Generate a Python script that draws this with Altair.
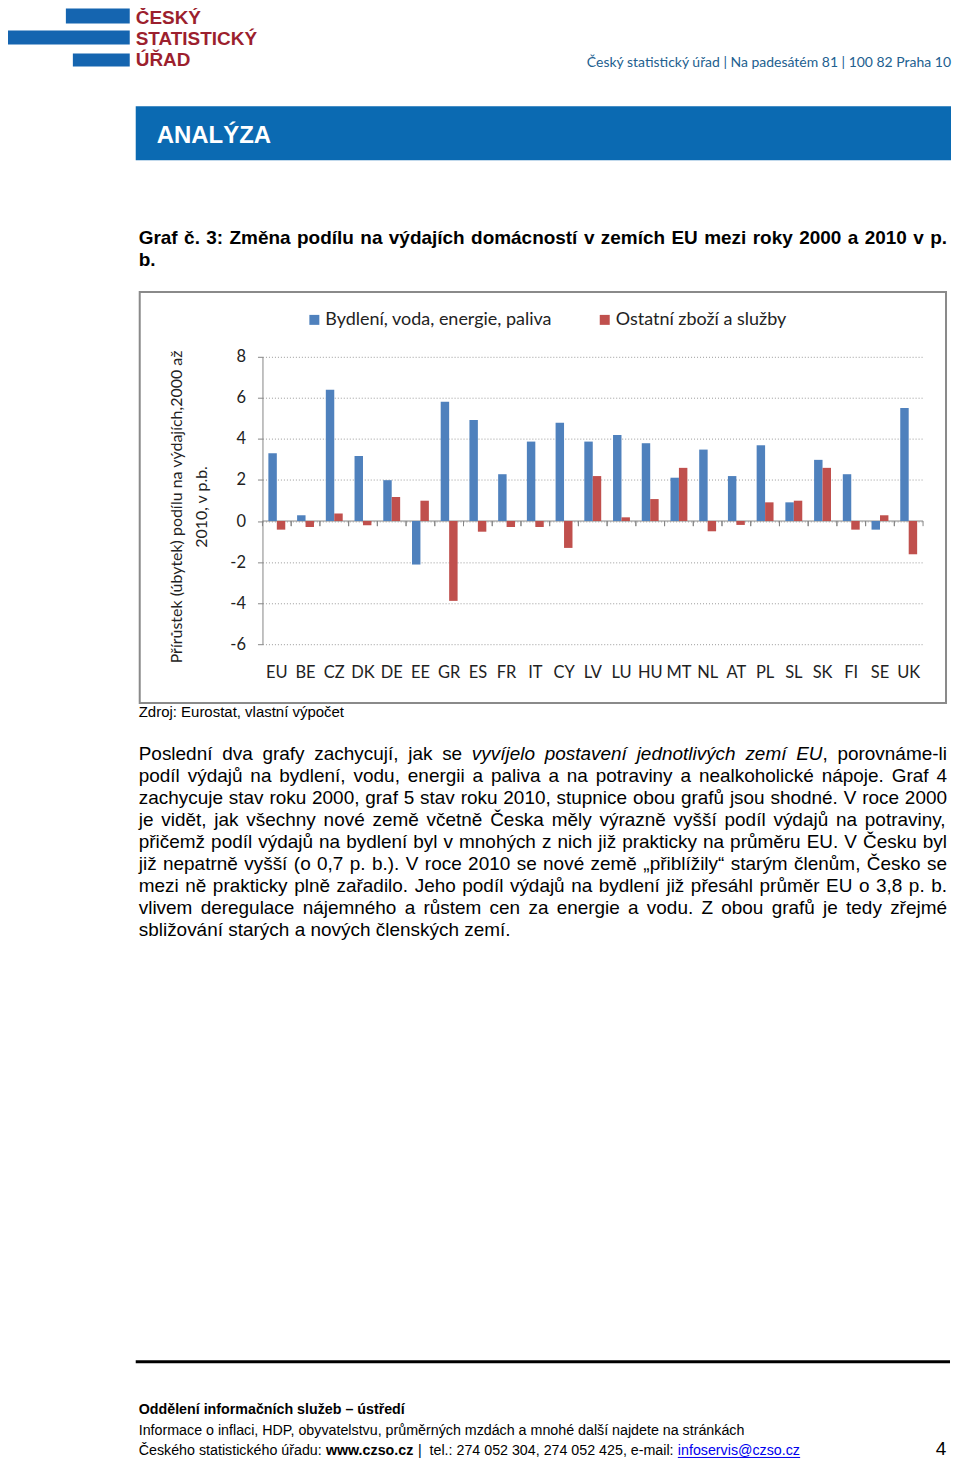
import unicodedata
import altair as alt
import pandas as pd

# ---------------- data ----------------
countries = ["EU", "BE", "CZ", "DK", "DE", "EE", "GR", "ES", "FR", "IT", "CY", "LV",
             "LU", "HU", "MT", "NL", "AT", "PL", "SL", "SK", "FI", "SE", "UK"]
housing = [3.30, 0.28, 6.40, 3.17, 1.99, -2.12, 5.81, 4.92, 2.28, 3.87, 4.79, 3.87,
           4.19, 3.79, 2.11, 3.48, 2.19, 3.69, 0.91, 2.98, 2.28, -0.42, 5.51]
other = [-0.42, -0.29, 0.37, -0.21, 1.17, 0.99, -3.89, -0.52, -0.29, -0.29, -1.31, 2.19,
         0.18, 1.07, 2.59, -0.50, -0.19, 0.91, 0.99, 2.59, -0.42, 0.28, -1.62]
series_names = ["Bydlení, voda, energie, paliva", "Ostatní zboží a služby"]
y_ticks = [-6, -4, -2, 0, 2, 4, 6, 8]
y_title = ["Přírůstek (úbytek) podílu na výdajích,2000 až", "2010, v p.b."]

chart_title = ["Graf č. 3: Změna podílu na výdajích domácností v zemích EU mezi roky 2000 a 2010 v p.",
               "b."]
source_text = "Zdroj: Eurostat, vlastní výpočet"
body_first = [("Poslední dva grafy zachycují, jak se", "normal"),
              ("vyvíjelo postavení jednotlivých zemí EU", "italic"),
              (", porovnáme-li", "normal")]
body_lines = [
    "podíl výdajů na bydlení, vodu, energii a paliva a na potraviny a nealkoholické nápoje. Graf 4",
    "zachycuje stav roku 2000, graf 5 stav roku 2010, stupnice obou grafů jsou shodné. V roce 2000",
    "je vidět, jak všechny nové země včetně Česka měly výrazně vyšší podíl výdajů na potraviny,",
    "přičemž podíl výdajů na bydlení byl v mnohých z nich již prakticky na průměru EU. V Česku byl",
    "již nepatrně vyšší (o 0,7 p. b.). V roce 2010 se nové země „přiblížily“ starým členům, Česko se",
    "mezi ně prakticky plně zařadilo. Jeho podíl výdajů na bydlení již přesáhl průměr EU o 3,8 p. b.",
    "vlivem deregulace nájemného a růstem cen za energie a vodu. Z obou grafů je tedy zřejmé",
    "sbližování starých a nových členských zemí.",
]
logo_lines = ["ČESKÝ", "STATISTICKÝ", "ÚŘAD"]
header_right = "Český statistický úřad | Na padesátém 81 | 100 82  Praha 10"
banner_text = "ANALÝZA"
footer_bold = "Oddělení informačních služeb – ústředí"
footer_line2 = "Informace o inflaci, HDP, obyvatelstvu, průměrných mzdách a mnohé další najdete na stránkách"
# (text, kind, number of spaces that follow it)
footer_line3 = [("Českého statistického úřadu:", "normal", 1), ("www.czso.cz", "bold", 1),
                ("|", "normal", 2), ("tel.: 274 052 304, 274 052 425, e-mail:", "normal", 1),
                ("infoservis@czso.cz", "link", 0)]
page_no = "4"

# ---------------- layout helpers ----------------
OX, OY = 263, 356          # page position of the plot origin
W, H = 662, 288            # plot area
CANVAS_W, CANVAS_H = 946, 1451
ARIAL = "Liberation Sans"
CAL = "Lato"
BLUE, RED = "#4F81BD", "#C0504D"
AXIS_GRAY = "#868686"

# Arial / Liberation Sans advance widths (1/1000 em), used to justify prose lines
_REG = dict(zip("ABCDEFGHIJKLMNOPQRSTUVWXYZ",
                [667, 667, 722, 722, 667, 611, 778, 722, 278, 500, 667, 556, 833, 722, 778,
                 667, 778, 722, 667, 611, 722, 667, 944, 667, 667, 611]))
_REG.update(zip("abcdefghijklmnopqrstuvwxyz",
                [556, 556, 500, 556, 556, 278, 556, 556, 222, 222, 500, 222, 833, 556, 556,
                 556, 556, 333, 500, 278, 556, 500, 722, 500, 500, 500]))
_REG.update({" ": 278, ",": 278, ".": 278, ":": 278, ";": 278, "-": 333, "(": 333, ")": 333,
             "@": 1015, "|": 260, "„": 333, "“": 333, "–": 556, "í": 278})
_BOLD = dict(zip("ABCDEFGHIJKLMNOPQRSTUVWXYZ",
                 [722, 722, 722, 722, 667, 611, 778, 722, 278, 556, 722, 611, 833, 722, 778,
                  667, 778, 722, 667, 611, 722, 667, 944, 667, 667, 611]))
_BOLD.update(zip("abcdefghijklmnopqrstuvwxyz",
                 [556, 611, 556, 611, 556, 333, 611, 611, 278, 278, 556, 278, 889, 611, 611,
                  611, 611, 389, 556, 333, 611, 556, 778, 556, 556, 500]))
_BOLD.update({" ": 278, ",": 278, ".": 278, ":": 333, "-": 333, "–": 556, "í": 278})


def tw(s, size, bold=False):
    table = _BOLD if bold else _REG
    total = 0
    for ch in s:
        if ch.isdigit():
            total += 556
        elif ch in table:
            total += table[ch]
        else:
            base = unicodedata.normalize("NFD", ch)[0]
            total += table.get(base, 556)
    return total * size / 1000.0


def X(px):
    return px - OX


def Y(py):
    return py - OY


def one():
    return alt.Data(values=[{"k": 1}])


def txt(s, x, y, size, color="#000000", weight="normal", style="normal",
        align="left", font=ARIAL):
    return alt.Chart(alt.Data(values=[{"t": s}])).mark_text(
        x=X(x), y=Y(y), fontSize=size, color=color, fontWeight=weight,
        fontStyle=style, align=align, baseline="alphabetic", font=font
    ).encode(text="t:N")


def box(x1, y1, x2, y2, color, **kw):
    return alt.Chart(one()).mark_rect(color=color, **kw).encode(
        x=alt.value(X(x1)), x2=alt.value(X(x2)), y=alt.value(Y(y1)), y2=alt.value(Y(y2)))


def hline(x1, x2, y, color, width):
    return alt.Chart(one()).mark_rule(color=color, strokeWidth=width).encode(
        x=alt.value(X(x1)), x2=alt.value(X(x2)), y=alt.value(Y(y)))


def justify(words, x0, x1, y, size, bold=False, last=False):
    """words: list of words, each a list of (text, style) segments."""
    wb = [sum(tw(t, size, bold) for t, _ in w) for w in words]
    if last or len(words) < 2:
        gap = tw(" ", size, bold)
    else:
        gap = (x1 - x0 - sum(wb)) / (len(words) - 1)
    out = []
    x = x0
    for w, wbw in zip(words, wb):
        cx = x
        for t, st in w:
            out.append(txt(t, cx, y, size, weight="bold" if bold else "normal", style=st))
            cx += tw(t, size, bold)
        x += wbw + gap
    return out


def plain_words(line):
    return [[(w, "normal")] for w in line.split(" ")]


# ---------------- page decorations ----------------
deco = []
# logo
deco.append(box(66, 7, 130, 22, "#1565B0"))
deco.append(box(4, 29, 130, 43, "#1565B0"))
deco.append(box(73, 52, 130, 65, "#1565B0"))
for i, s in enumerate(logo_lines):
    deco.append(txt(s, 136, [22, 44, 65][i], 19, color="#9C1F2E", weight="bold"))
deco.append(txt(header_right, 953, 66, 14, color="#22608F", align="right", font=CAL))
# banner
deco.append(box(136, 105, 953, 159, "#0B6AB2"))
deco.append(txt(banner_text, 157, 142, 24, color="#FFFFFF", weight="bold"))
# chart caption (justified like the original)
deco += justify(plain_words(chart_title[0]), 139, 949, 243, 19, bold=True)
deco.append(txt(chart_title[1], 139, 265, 19, weight="bold"))
# chart frame
deco.append(alt.Chart(one()).mark_rect(fillOpacity=0, stroke="#8A8A8A", strokeWidth=2).encode(
    x=alt.value(X(140)), x2=alt.value(X(948)), y=alt.value(Y(291)), y2=alt.value(Y(703))))
# source
deco.append(txt(source_text, 139, 717, 15))
# body (justified)
first_words = []
for seg, st in body_first:
    parts = seg.split(" ")
    for j, p in enumerate(parts):
        if p == "":
            continue
        if j == 0 and seg.startswith(",") and first_words:
            first_words[-1].append((p, st))
        else:
            first_words.append([(p, st)])
deco += justify(first_words, 139, 949, 760, 19)
for i, s in enumerate(body_lines):
    deco += justify(plain_words(s), 139, 949, 782 + 22 * i, 19, last=(i == len(body_lines) - 1))
# footer
deco.append(hline(136, 952, 1363, "#000000", 3))
FS = 14.3
deco.append(txt(footer_bold, 139, 1415, FS, weight="bold"))
deco.append(txt(footer_line2, 139, 1436, FS))
fx = 139
for s, kind, nsp in footer_line3:
    bold = kind == "bold"
    if kind == "link":
        deco.append(txt(s, fx, 1457, FS, color="#0000EE"))
        deco.append(hline(fx, fx + tw(s, FS), 1459, "#0000EE", 1))
    else:
        deco.append(txt(s, fx, 1457, FS, weight="bold" if bold else "normal"))
    fx += tw(s, FS, bold) + nsp * tw(" ", FS)
deco.append(txt(page_no, 943, 1457, 19, align="center"))

# ---------------- bar chart ----------------
df = pd.DataFrame({
    "country": countries * 2,
    "series": [series_names[0]] * len(countries) + [series_names[1]] * len(countries),
    "value": housing + other,
})
cdf = pd.DataFrame({"country": countries})

x_scale = alt.Scale(paddingInner=0, paddingOuter=0)
y_scale = alt.Scale(domain=[-6, 8], nice=False, zero=False)
x_axis = alt.Axis(title=None, domain=False, ticks=False, labelAngle=0, labelPadding=20,
                  labelFontSize=16.5, labelFont=CAL, labelColor="#222222")
y_axis = alt.Axis(title=y_title, values=y_ticks, grid=True, gridDash=[1, 2],
                  gridColor="#9A9A9A", gridWidth=1, domainColor=AXIS_GRAY,
                  tickColor=AXIS_GRAY, tickSize=5, labelFontSize=16.5, labelFont=CAL,
                  labelColor="#222222", labelPadding=12, labelExpr="'' + datum.value",
                  titleFont=CAL, titleFontSize=16, titleFontWeight="normal",
                  titleLineHeight=25, titlePadding=20, titleColor="#222222", titleY=150)


def xenc(band=0.5):
    return alt.X("country:N", sort=countries, scale=x_scale, axis=x_axis, bandPosition=band)


bars = alt.Chart(df).mark_bar().encode(
    x=alt.X("country:N", sort=countries, scale=x_scale, axis=x_axis),
    xOffset=alt.XOffset("series:N", sort=series_names,
                        scale=alt.Scale(paddingOuter=0.7, paddingInner=0)),
    y=alt.Y("value:Q", scale=y_scale, axis=y_axis, stack=None),
    color=alt.Color("series:N", sort=series_names,
                    scale=alt.Scale(domain=series_names, range=[BLUE, RED]),
                    legend=alt.Legend(orient="none", legendX=X(306), legendY=Y(310),
                                      direction="horizontal", title=None,
                                      symbolType="square", symbolSize=100,
                                      symbolStrokeWidth=0, labelFontSize=18,
                                      labelFont=CAL, labelColor="#222222",
                                      labelLimit=400, columnPadding=43, labelOffset=2)),
)

zero_line = alt.Chart(one()).mark_rule(color=AXIS_GRAY, strokeWidth=1).encode(
    y=alt.YDatum(0, axis=y_axis, scale=y_scale))

ticks_l = alt.Chart(cdf).mark_rule(color=AXIS_GRAY, strokeWidth=1).encode(
    x=xenc(0), y=alt.YDatum(0, axis=y_axis, scale=y_scale), y2=alt.Y2Datum(-0.25))
ticks_r = alt.Chart(cdf).mark_rule(color=AXIS_GRAY, strokeWidth=1).encode(
    x=xenc(1), y=alt.YDatum(0, axis=y_axis, scale=y_scale), y2=alt.Y2Datum(-0.25))

chart = alt.layer(*deco, zero_line, ticks_l, ticks_r, bars).properties(
    width=W, height=H,
    autosize=alt.AutoSizeParams(type="none"),
    padding={"left": OX - 8, "top": OY - 8,
             "right": CANVAS_W - (OX - 8) - W, "bottom": CANVAS_H - (OY - 8) - H},
).configure_view(stroke="transparent")

chart.save("out.html", embed_options={"renderer": "svg", "actions": False})
